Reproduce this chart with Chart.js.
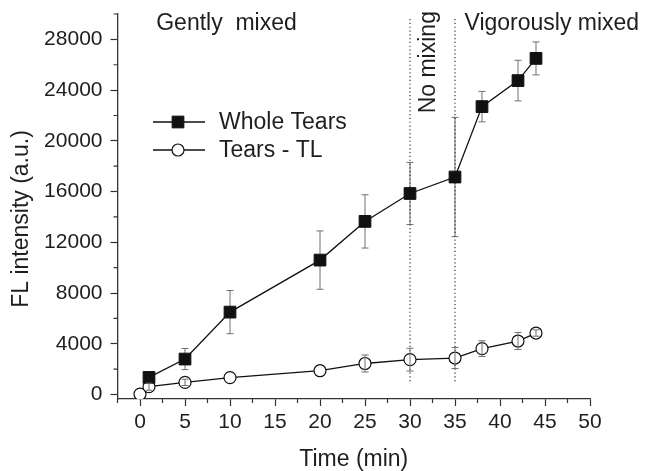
<!DOCTYPE html>
<html>
<head>
<meta charset="utf-8">
<script src="https://cdn.jsdelivr.net/npm/chart.js@4/dist/chart.umd.min.js"></script>
<style>
  html, body { margin: 0; padding: 0; background: #fff; }
  #wrap { width: 649px; height: 471px; }
</style>
</head>
<body>
<div id="wrap"><canvas id="chart" width="649" height="471"></canvas></div>
<script>
// Whole tears (filled squares)
const timeWhole = [1, 5, 10, 20, 25, 30, 35, 38, 42, 44];
const wholeTears = [1350, 2800, 6500, 10600, 13650, 15850, 17150, 22700, 24750, 26500];
const wholeErr = [300, 830, 1700, 2300, 2100, 2450, 4700, 1200, 1600, 1300];

// Tears - TL (open circles)
const timeTL = [0, 1, 5, 10, 20, 25, 30, 35, 38, 42, 44];
const tearsTL = [30, 620, 960, 1330, 1880, 2450, 2750, 2880, 3620, 4220, 4850];
const tlErr = [0, 280, 250, 0, 0, 670, 900, 830, 620, 670, 250];

// dotted phase dividers
const dividerTimes = [30, 35];
const dividerSpan = [1050, 29600];

const xTicks = [0, 5, 10, 15, 20, 25, 30, 35, 40, 45, 50];
const yTicks = [0, 4000, 8000, 12000, 16000, 20000, 24000, 28000];

const FONT = "'Liberation Sans', Arial, Helvetica, sans-serif";
const INK = "#1e1e1e";
Chart.defaults.font.family = FONT;
Chart.defaults.color = INK;

// minor ticks halfway between the major ones
const minorTicks = {
  id: "minorTicks",
  afterDraw(chart) {
    const { ctx, scales: { x, y } } = chart;
    ctx.save();
    ctx.strokeStyle = "#333";
    ctx.lineWidth = 1.2;
    ctx.beginPath();
    for (let v = -2.5; v <= 50; v += 5) {
      const px = x.getPixelForValue(v);
      ctx.moveTo(px, y.bottom);
      ctx.lineTo(px, y.bottom + 4);
    }
    for (let v = 2000; v <= 30000; v += 4000) {
      const py = y.getPixelForValue(v);
      ctx.moveTo(x.left, py);
      ctx.lineTo(x.left - 4, py);
    }
    ctx.stroke();
    ctx.restore();
  }
};

function drawErrors(chart, onTop) {
  const { ctx, scales: { x, y } } = chart;
  ctx.save();
  ctx.strokeStyle = "#707070";
  ctx.lineWidth = 1;
  chart.data.datasets.forEach(ds => {
    if (!ds.errors || !!ds.errOnTop !== onTop) return;
    ds.data.forEach((p, i) => {
      const e = ds.errors[i];
      if (!e) return;
      const px = x.getPixelForValue(p.x);
      const top = y.getPixelForValue(p.y + e);
      const bot = y.getPixelForValue(p.y - e);
      ctx.beginPath();
      ctx.moveTo(px, top); ctx.lineTo(px, bot);
      ctx.moveTo(px - 3.5, top); ctx.lineTo(px + 3.5, top);
      ctx.moveTo(px - 3.5, bot); ctx.lineTo(px + 3.5, bot);
      ctx.stroke();
    });
  });
  ctx.restore();
}

const errorBars = {
  id: "errorBars",
  beforeDatasetsDraw(chart) { drawErrors(chart, false); },
  afterDatasetsDraw(chart) { drawErrors(chart, true); }
};

// phase labels, y title and the legend box
const annotations = {
  id: "annotations",
  afterDraw(chart) {
    const { ctx, scales: { x, y } } = chart;
    ctx.save();
    ctx.fillStyle = INK;
    ctx.font = "23px " + FONT;
    ctx.textBaseline = "middle";
    ctx.textAlign = "left";
    ctx.fillText("Gently  mixed", x.getPixelForValue(1.8), y.getPixelForValue(29200));
    ctx.fillText("Vigorously mixed", x.getPixelForValue(36.05), y.getPixelForValue(29200));

    ctx.save();
    ctx.translate(x.getPixelForValue(32.1), y.getPixelForValue(26200));
    ctx.rotate(-Math.PI / 2);
    ctx.textAlign = "center";
    ctx.fillText("No mixing", 0, 0);
    ctx.restore();

    ctx.save();
    ctx.translate(22, 219);
    ctx.rotate(-Math.PI / 2);
    ctx.textAlign = "center";
    ctx.fillText("FL intensity (a.u.)", 0, 0);
    ctx.restore();

    // legend
    const rows = [122, 150];
    chart.data.datasets.slice(0, 2).forEach((ds, i) => {
      const yy = rows[i];
      ctx.strokeStyle = "#111";
      ctx.lineWidth = 1.3;
      ctx.beginPath();
      ctx.moveTo(153, yy); ctx.lineTo(205, yy);
      ctx.stroke();
      ctx.fillStyle = ds.pointBackgroundColor;
      ctx.strokeStyle = ds.pointBorderColor;
      ctx.lineWidth = ds.pointBorderWidth;
      Chart.helpers.drawPoint(ctx, {
        pointStyle: ds.pointStyle, radius: ds.pointRadius, rotation: 0, borderWidth: ds.pointBorderWidth
      }, 178, yy);
      ctx.fillStyle = INK;
      ctx.fillText(ds.label, 219, yy + 1);
    });
    ctx.restore();
  }
};

const dividerSets = dividerTimes.map(t => ({
  label: "divider",
  data: dividerSpan.map(v => ({ x: t, y: v })),
  borderColor: "#333",
  borderWidth: 1.2,
  borderDash: [1.2, 2.6],
  pointRadius: 0
}));

new Chart(document.getElementById("chart"), {
  type: "line",
  data: {
    datasets: [
      {
        label: "Whole Tears",
        data: timeWhole.map((t, i) => ({ x: t, y: wholeTears[i] })),
        errors: wholeErr,
        borderColor: "#111",
        borderWidth: 1.3,
        pointStyle: "rect",
        pointRadius: 8.3,
        pointBackgroundColor: "#111",
        pointBorderColor: "#111",
        pointBorderWidth: 1
      },
      {
        label: "Tears - TL",
        data: timeTL.map((t, i) => ({ x: t, y: tearsTL[i] })),
        errors: tlErr,
        errOnTop: true,
        borderColor: "#111",
        borderWidth: 1.3,
        pointStyle: "circle",
        pointRadius: 6,
        pointBackgroundColor: "#fff",
        pointBorderColor: "#111",
        pointBorderWidth: 1.2
      },
      ...dividerSets
    ]
  },
  options: {
    responsive: false,
    animation: false,
    layout: { padding: { top: 14, right: 59, left: 0, bottom: 0 } },
    plugins: { legend: { display: false }, tooltip: { enabled: false } },
    scales: {
      x: {
        type: "linear",
        min: -2.5,
        max: 50,
        afterBuildTicks: s => { s.ticks = xTicks.map(v => ({ value: v })); },
        afterFit: s => { s.height = 72; s.paddingLeft = 0; s.paddingRight = 0; },
        grid: { drawOnChartArea: false, tickLength: 7, color: "#333", tickWidth: 1.2 },
        border: { color: "#333", width: 1.3 },
        ticks: { font: { size: 21 }, padding: 4, maxRotation: 0, color: INK },
        title: { display: true, text: "Time (min)", font: { size: 23, lineHeight: 1 }, color: INK, padding: { top: 0, bottom: 0 } }
      },
      y: {
        min: -350,
        max: 30000,
        afterBuildTicks: s => { s.ticks = yTicks.map(v => ({ value: v })); },
        afterFit: s => { s.width = 117.5; s.paddingTop = 0; s.paddingBottom = 0; },
        grid: { drawOnChartArea: false, tickLength: 7, color: "#333", tickWidth: 1.2 },
        border: { color: "#333", width: 1.3 },
        ticks: { font: { size: 21 }, padding: 8, color: INK, callback: v => String(v) },
        title: { display: false }
      }
    }
  },
  plugins: [errorBars, minorTicks, annotations]
});
</script>
</body>
</html>
